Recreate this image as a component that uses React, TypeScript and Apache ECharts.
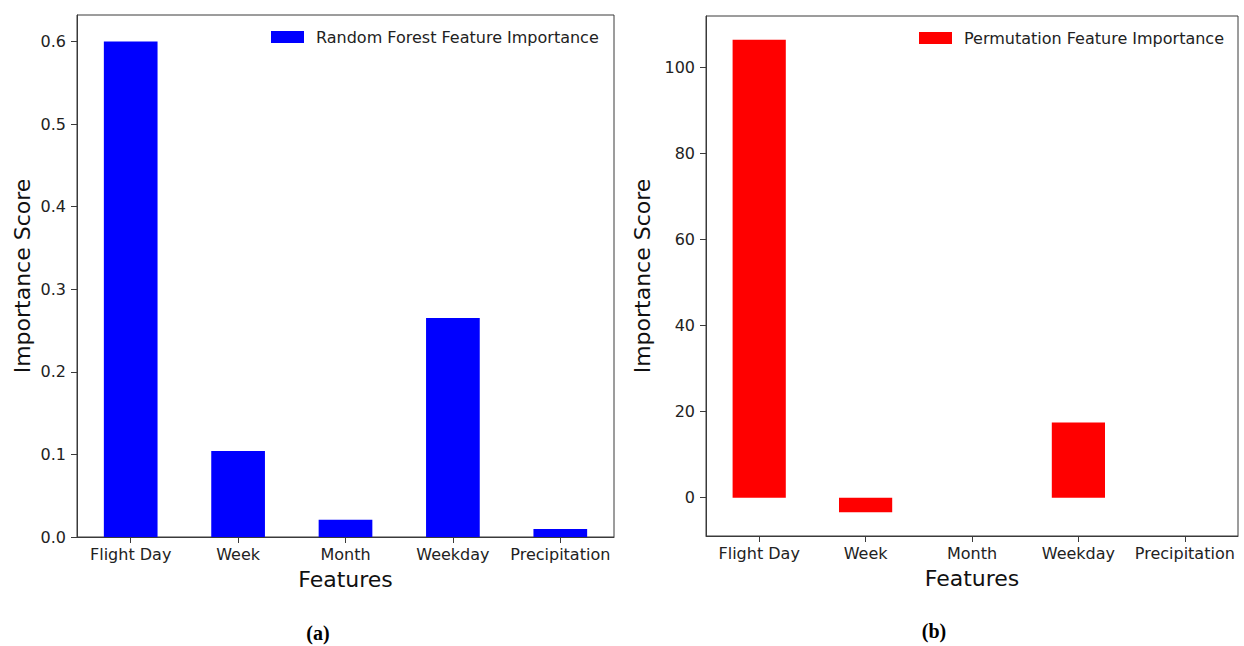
import React, { useEffect, useRef } from "react";
import * as echarts from "echarts";

const features = ["Flight Day", "Week", "Month", "Weekday", "Precipitation"];
const rfImportance = [0.6, 0.104, 0.021, 0.265, 0.0097];
const permImportance = [106.5, -3.4, 0, 17.5, 0];
const rfTicks = [0, 0.1, 0.2, 0.3, 0.4, 0.5, 0.6];
const permTicks = [0, 20, 40, 60, 80, 100];
const rfRange = [0, 0.632];
const permRange = [-8.9, 112];
const rfName = "Random Forest Feature Importance";
const permName = "Permutation Feature Importance";
const panelLabels = ["(a)", "(b)"];

const FONT = "DejaVu Sans";
const AX = "#3a3a3a";

function xAxisCfg(gridIndex: number) {
  return {
    type: "category",
    gridIndex,
    data: features,
    axisLine: { show: true, onZero: false, lineStyle: { color: AX, width: 1 } },
    axisTick: { show: true, alignWithLabel: true, length: 6, lineStyle: { color: AX } },
    axisLabel: { interval: 0, fontSize: 16, fontFamily: FONT, color: "#222", margin: 9 },
    name: "Features",
    nameLocation: "middle",
    nameGap: 31,
    nameTextStyle: { fontSize: 22, fontFamily: FONT, color: "#111" },
    splitLine: { show: false },
  };
}

function yAxisCfg(gridIndex: number, range: number[], ticks: number[], digits: number, gap: number) {
  return {
    type: "value",
    gridIndex,
    min: range[0],
    max: range[1],
    splitLine: { show: false },
    axisLine: { show: true, lineStyle: { color: AX, width: 1 } },
    axisTick: { show: true, length: 6, lineStyle: { color: AX }, customValues: ticks },
    axisLabel: {
      customValues: ticks,
      fontSize: 16,
      fontFamily: FONT,
      color: "#222",
      margin: 11,
      formatter: (v: number) => v.toFixed(digits),
    },
    name: "Importance Score",
    nameLocation: "middle",
    nameGap: gap,
    nameTextStyle: { fontSize: 22, fontFamily: FONT, color: "#111" },
  };
}

function legendCfg(name: string, left: number, top: number) {
  return {
    data: [name],
    left,
    top,
    padding: 0,
    icon: "rect",
    itemWidth: 33,
    itemHeight: 12,
    textStyle: { fontSize: 16, fontFamily: FONT, color: "#222", padding: [0, 0, 0, 7] },
    selectedMode: false,
  };
}

export default function App() {
  const ref = useRef<HTMLDivElement>(null);
  useEffect(() => {
    if (!ref.current) return;
    const chart = echarts.init(ref.current, null, { renderer: "svg" });
    chart.setOption({
      animation: false,
      backgroundColor: "#ffffff",
      grid: [
        { left: 77, top: 15, width: 537, height: 522, show: true, borderColor: AX, borderWidth: 1, containLabel: false },
        { left: 706, top: 16, width: 532, height: 520, show: true, borderColor: AX, borderWidth: 1, containLabel: false },
      ],
      xAxis: [xAxisCfg(0), xAxisCfg(1)],
      yAxis: [yAxisCfg(0, rfRange, rfTicks, 1, 44), yAxisCfg(1, permRange, permTicks, 0, 53)],
      legend: [legendCfg(rfName, 271, 29), legendCfg(permName, 919, 30)],
      series: [
        {
          type: "bar",
          name: rfName,
          xAxisIndex: 0,
          yAxisIndex: 0,
          data: rfImportance,
          barWidth: "50%",
          itemStyle: { color: "#0000ff" },
        },
        {
          type: "bar",
          name: permName,
          xAxisIndex: 1,
          yAxisIndex: 1,
          data: permImportance,
          barWidth: "50%",
          itemStyle: { color: "#ff0000" },
        },
      ],
      graphic: [
        {
          type: "text",
          x: 318,
          y: 633,
          style: {
            text: panelLabels[0],
            font: "bold 20px 'Liberation Serif'",
            fill: "#000",
            align: "center",
            verticalAlign: "middle",
          },
        },
        {
          type: "text",
          x: 934,
          y: 631,
          style: {
            text: panelLabels[1],
            font: "bold 20px 'Liberation Serif'",
            fill: "#000",
            align: "center",
            verticalAlign: "middle",
          },
        },
      ],
    });
    return () => chart.dispose();
  }, []);
  return (
    <div
      ref={ref}
      style={{ position: "fixed", left: 0, top: 0, width: 1244, height: 646, background: "#fff" }}
    />
  );
}
